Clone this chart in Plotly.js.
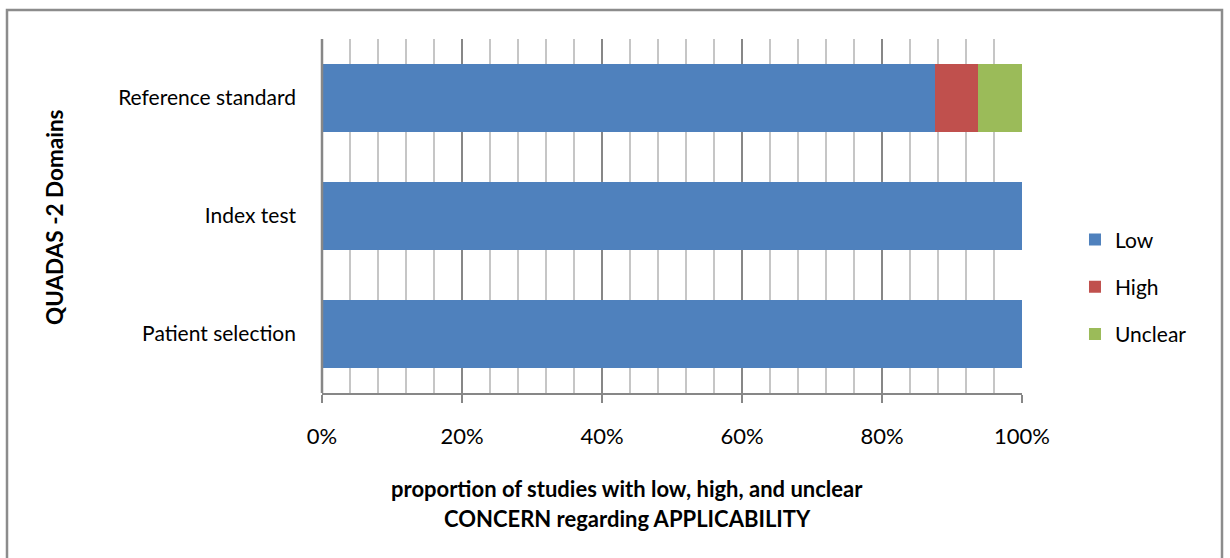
<!DOCTYPE html>
<html>
<head>
<meta charset="utf-8">
<script src="https://cdn.plot.ly/plotly-3.0.1.min.js"></script>
<style>html,body{margin:0;padding:0;background:#fff;}#chart{width:1230px;height:558px;}</style>
</head>
<body>
<div id="chart"></div>
<script>
const categories = ["Patient selection", "Index test", "Reference standard"];
const lowValues = [100, 100, 87.5];
const highValues = [0, 0, 6.25];
const unclearValues = [0, 0, 6.25];
const seriesNames = ["Low", "High", "Unclear"];
const seriesColors = ["#4F81BD", "#C0504D", "#9BBB59"];
const xTickVals = [0, 20, 40, 60, 80, 100];
const xTickText = ["0%", "20%", "40%", "60%", "80%", "100%"];

const FONT = "Lato, 'Open Sans', sans-serif";
const seriesValues = [lowValues, highValues, unclearValues];
const traces = seriesValues.map((vals, i) => ({
  type: "bar",
  orientation: "h",
  y: categories,
  x: vals,
  name: seriesNames[i],
  legendgroup: "g" + i,
  marker: {color: seriesColors[i], line: {width: 0}},
  hoverinfo: "x+y+name"
}));

const layout = {
  width: 1230, height: 558,
  margin: {l: 322, r: 208, t: 39, b: 165},
  paper_bgcolor: "#ffffff", plot_bgcolor: "#ffffff",
  barmode: "stack",
  bargap: 0.42,
  font: {family: FONT, color: "#000000", size: 21},
  xaxis: {
    range: [0, 100],
    tickvals: xTickVals, ticktext: xTickText,
    showgrid: true, gridcolor: "#878787", gridwidth: 1.5,
    minor: {dtick: 4, showgrid: true, gridcolor: "#c6c6c6", gridwidth: 1.5, ticks: ""},
    showline: true, linecolor: "#878787", linewidth: 1.5,
    ticks: "outside", ticklen: 8, tickcolor: "#878787", tickwidth: 1.5,
    tickfont: {family: FONT, size: 22, color: "#000"},
    ticklabelstandoff: 15,
    zeroline: false, fixedrange: true
  },
  yaxis: {
    type: "category",
    categoryorder: "array", categoryarray: categories,
    showgrid: false, showline: false, zeroline: false,
    ticks: "", ticklabelstandoff: 25,
    tickfont: {family: FONT, size: 21, color: "#000"},
    fixedrange: true
  },
  showlegend: true,
  legend: {
    x: 1.0757, xanchor: "left", y: 0.30, yanchor: "middle",
    traceorder: "grouped", tracegroupgap: 17,
    font: {family: FONT, size: 21, color: "#000"},
    bgcolor: "rgba(0,0,0,0)", itemwidth: 30
  },
  shapes: [
    {type: "line", xref: "paper", yref: "paper", x0: 0, x1: 0, y0: 0, y1: 1,
     line: {color: "#878787", width: 2.5}},
    {type: "rect", xref: "paper", yref: "paper",
     x0: (7 - 322) / 700, x1: (1222 - 322) / 700,
     y0: (393 - 570) / 354, y1: (393 - 10) / 354,
     line: {color: "#8c8c8c", width: 2.5}, fillcolor: "rgba(0,0,0,0)", layer: "below"}
  ],
  annotations: [
    {text: "<b>QUADAS -2 Domains</b>", xref: "paper", yref: "paper",
     x: (55 - 322) / 700, y: (393 - 217) / 354, xanchor: "center", yanchor: "middle",
     textangle: -90, showarrow: false, font: {family: FONT, size: 22.5, color: "#000"}},
    {text: "<b>proportion of studies with low, high, and unclear</b>", xref: "paper", yref: "paper",
     x: (627 - 322) / 700, y: (393 - 488) / 354, xanchor: "center", yanchor: "middle",
     showarrow: false, font: {family: FONT, size: 22, color: "#000"}},
    {text: "<b>CONCERN regarding APPLICABILITY</b>", xref: "paper", yref: "paper",
     x: (627 - 322) / 700, y: (393 - 518) / 354, xanchor: "center", yanchor: "middle",
     showarrow: false, font: {family: FONT, size: 22, color: "#000"}}
  ]
};

Plotly.newPlot("chart", traces, layout, {displayModeBar: false, staticPlot: true});
</script>
</body>
</html>
